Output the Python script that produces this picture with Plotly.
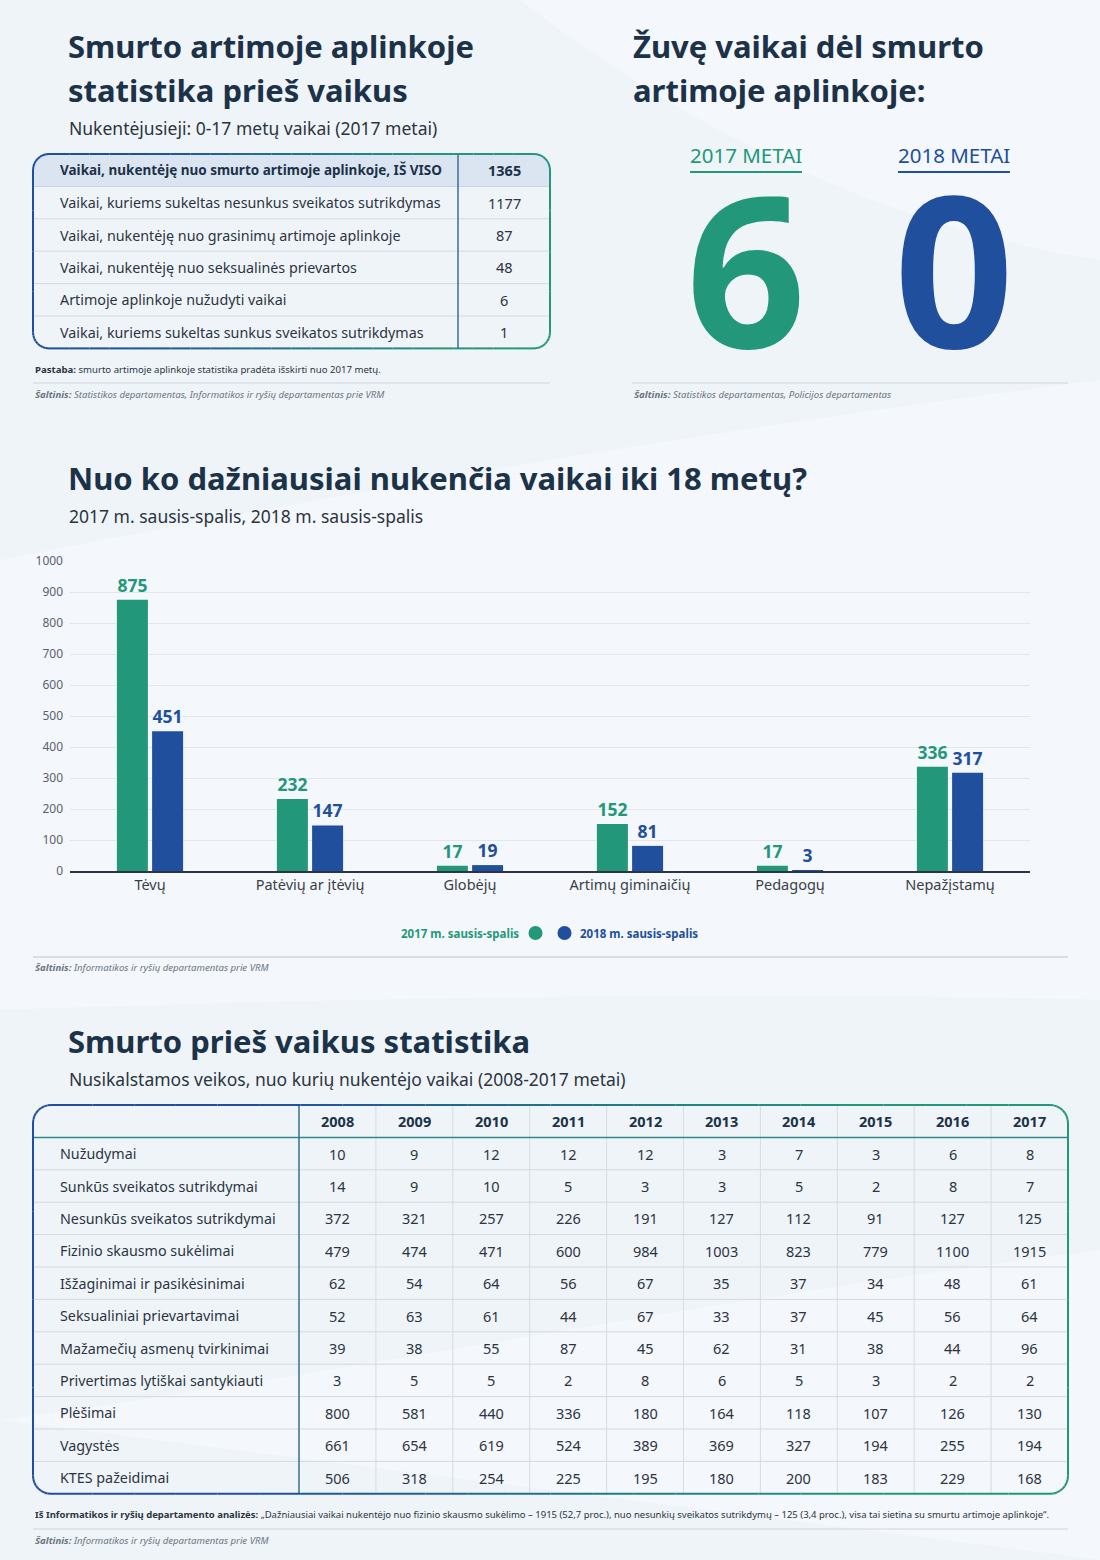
import math
import plotly.graph_objects as go

W, H = 1100, 1560
GREEN = "#23977a"
BLUE = "#1f4f9d"
NAVY = "#1c3248"
TEXT = "#2b3440"
GREY = "#6b7580"
BG = "#eff4f9"
FONT = "Noto Sans"

# ---------------- data ----------------
top_labels = [
    "Vaikai, nukentėję nuo smurto artimoje aplinkoje, IŠ VISO",
    "Vaikai, kuriems sukeltas nesunkus sveikatos sutrikdymas",
    "Vaikai, nukentėję nuo grasinimų artimoje aplinkoje",
    "Vaikai, nukentėję nuo seksualinės prievartos",
    "Artimoje aplinkoje nužudyti vaikai",
    "Vaikai, kuriems sukeltas sunkus sveikatos sutrikdymas",
]
top_values = [1365, 1177, 87, 48, 6, 1]

killed_years = ["2017 METAI", "2018 METAI"]
killed_values = [6, 0]

categories = ["Tėvų", "Patėvių ar įtėvių", "Globėjų", "Artimų giminaičių", "Pedagogų", "Nepažįstamų"]
series_2017 = [875, 232, 17, 152, 17, 336]
series_2018 = [451, 147, 19, 81, 3, 317]
series_names = ["2017 m. sausis-spalis", "2018 m. sausis-spalis"]
y_ticks = [0, 100, 200, 300, 400, 500, 600, 700, 800, 900, 1000]

years = [2008, 2009, 2010, 2011, 2012, 2013, 2014, 2015, 2016, 2017]
crime_labels = [
    "Nužudymai", "Sunkūs sveikatos sutrikdymai", "Nesunkūs sveikatos sutrikdymai",
    "Fizinio skausmo sukėlimai", "Išžaginimai ir pasikėsinimai", "Seksualiniai prievartavimai",
    "Mažamečių asmenų tvirkinimai", "Privertimas lytiškai santykiauti", "Plėšimai",
    "Vagystės", "KTES pažeidimai",
]
nuzudymai = [10, 9, 12, 12, 12, 3, 7, 3, 6, 8]
sunkus = [14, 9, 10, 5, 3, 3, 5, 2, 8, 7]
nesunkus = [372, 321, 257, 226, 191, 127, 112, 91, 127, 125]
fizinio = [479, 474, 471, 600, 984, 1003, 823, 779, 1100, 1915]
isza = [62, 54, 64, 56, 67, 35, 37, 34, 48, 61]
seksual = [52, 63, 61, 44, 67, 33, 37, 45, 56, 64]
tvirk = [39, 38, 55, 87, 45, 62, 31, 38, 44, 96]
privert = [3, 5, 5, 2, 8, 6, 5, 3, 2, 2]
plesimai = [800, 581, 440, 336, 180, 164, 118, 107, 126, 130]
vagystes = [661, 654, 619, 524, 389, 369, 327, 194, 255, 194]
ktes = [506, 318, 254, 225, 195, 180, 200, 183, 229, 168]
crime_rows = [nuzudymai, sunkus, nesunkus, fizinio, isza, seksual, tvirk, privert, plesimai, vagystes, ktes]

# ---------------- helpers ----------------
annotations = []
shapes = []


def txt(x, y, s, size, color=TEXT, anchor="left", family=FONT, height=None):
    a = dict(
        x=x, y=y, xref="x2", yref="y2", text=s, showarrow=False,
        xanchor=anchor, yanchor="middle",
        font=dict(family=family, size=size, color=color),
    )
    if height is not None:
        a["height"] = height
    annotations.append(a)


def hline(x0, x1, y, color, width=1):
    shapes.append(dict(type="line", xref="x2", yref="y2", x0=x0, x1=x1, y0=y, y1=y,
                       line=dict(color=color, width=width)))


def vline(x, y0, y1, color, width=1):
    shapes.append(dict(type="line", xref="x2", yref="y2", x0=x, x1=x, y0=y0, y1=y1,
                       line=dict(color=color, width=width)))


def hexrgb(h):
    h = h.lstrip("#")
    return [int(h[i:i + 2], 16) for i in (0, 2, 4)]


def mix(c0, c1, t):
    a, b = hexrgb(c0), hexrgb(c1)
    return "rgb(%d,%d,%d)" % tuple(round(a[i] + (b[i] - a[i]) * t) for i in range(3))


def gradient_rrect(x0, y0, x1, y1, r, c_left, c_right, width=2):
    pts = []
    n_e, n_a = 24, 8
    def edge(ax, ay, bx, by, n):
        for i in range(n):
            t = i / n
            pts.append((ax + (bx - ax) * t, ay + (by - ay) * t))
    def arc(cx, cy, a0, a1, n):
        for i in range(n):
            a = a0 + (a1 - a0) * i / n
            pts.append((cx + r * math.cos(a), cy + r * math.sin(a)))
    edge(x0 + r, y0, x1 - r, y0, n_e)
    arc(x1 - r, y0 + r, -math.pi / 2, 0, n_a)
    edge(x1, y0 + r, x1, y1 - r, 4)
    arc(x1 - r, y1 - r, 0, math.pi / 2, n_a)
    edge(x1 - r, y1, x0 + r, y1, n_e)
    arc(x0 + r, y1 - r, math.pi / 2, math.pi, n_a)
    edge(x0, y1 - r, x0, y0 + r, 4)
    arc(x0 + r, y0 + r, math.pi, 1.5 * math.pi, n_a)
    pts.append(pts[0])
    for (ax, ay), (bx, by) in zip(pts[:-1], pts[1:]):
        t = ((ax + bx) / 2 - x0) / (x1 - x0)
        t = min(1, max(0, (t - 0.2) / 0.6))
        shapes.append(dict(type="line", xref="x2", yref="y2", x0=ax, x1=bx, y0=ay, y1=by,
                           line=dict(color=mix(c_left, c_right, t), width=width)))


def paper_path(cmds):
    # cmds: list of (letter, [(x, y), ...]) in page pixels -> paper-relative path
    out = []
    for c, pts in cmds:
        out.append(c + " " + " ".join(f"{x / W:.4f},{1 - y / H:.4f}" for x, y in pts))
    return " ".join(out) + " Z"


# faint background swooshes (decorative, beneath everything)
swooshes = [
    [("M", [(520, 0)]), ("C", [(700, 140), (900, 230), (1100, 260)]), ("L", [(1100, 0)])],
    [("M", [(0, 560)]), ("C", [(300, 500), (700, 430), (1100, 380)]), ("L", [(1100, 1000)]),
     ("C", [(700, 990), (300, 1000), (0, 1010)])],
    [("M", [(0, 1420)]), ("C", [(300, 1380), (700, 1300), (1100, 1250)]), ("L", [(1100, 1560), (0, 1560)])],
]
for sw in swooshes:
    shapes.append(dict(type="path", xref="paper", yref="paper", layer="below", path=paper_path(sw),
                       fillcolor="#ffffff", opacity=0.3, line=dict(width=0)))

TITLE_SIZE = 31
SUB_SIZE = 17.5
NOTE_SIZE = 9.6
LABEL_SIZE = 14.3
NUM_SIZE = 14.5

# ---------------- section 1: top-left table ----------------
txt(66, 46, "<b>Smurto artimoje aplinkoje</b>", TITLE_SIZE, NAVY)
txt(66, 90, "<b>statistika prieš vaikus</b>", TITLE_SIZE, NAVY)
txt(67, 128, "Nukentėjusieji: 0-17 metų vaikai (2017 metai)", SUB_SIZE, TEXT)

tx0, tx1, ty0, row_h = 33, 550, 154, 32.4
tsep = 458
ty1 = ty0 + row_h * len(top_labels)
r = 16
shapes.append(dict(type="path", xref="x2", yref="y2", layer="below",
                   path=f"M {tx0},{ty0 + r} Q {tx0},{ty0} {tx0 + r},{ty0} L {tx1 - r},{ty0} "
                        f"Q {tx1},{ty0} {tx1},{ty0 + r} L {tx1},{ty0 + row_h} L {tx0},{ty0 + row_h} Z",
                   fillcolor="#dbe5f2", line=dict(width=0)))
for i, (lab, val) in enumerate(zip(top_labels, top_values)):
    yc = ty0 + row_h * (i + 0.5)
    if i == 0:
        txt(58, yc, f"<b>{lab}</b>", 13.5, NAVY)
        txt((tsep + tx1) / 2, yc, f"<b>{val}</b>", NUM_SIZE, NAVY, "center")
    else:
        txt(58, yc, lab, LABEL_SIZE, TEXT)
        txt((tsep + tx1) / 2, yc, str(val), NUM_SIZE, TEXT, "center")
    if i > 0:
        hline(tx0, tx1, ty0 + row_h * i, "#c9d3de" if i == 1 else "#d5dbe2", 1)
vline(tsep, ty0, ty1, "#3c6f8f", 1.5)
gradient_rrect(tx0, ty0, tx1, ty1, r, BLUE, GREEN, 2)

txt(33, 369, "<b>Pastaba:</b> smurto artimoje aplinkoje statistika pradėta išskirti nuo 2017 metų.", NOTE_SIZE, TEXT)
hline(33, 550, 383, "#cfd5dc", 1)
txt(33, 394, "<i><b>Šaltinis:</b> Statistikos departamentas, Informatikos ir ryšių departamentas prie VRM</i>",
    NOTE_SIZE, GREY)

# ---------------- section 2: big numbers ----------------
txt(631, 46, "<b>Žuvę vaikai dėl smurto</b>", TITLE_SIZE, NAVY)
txt(631, 90, "<b>artimoje aplinkoje:</b>", TITLE_SIZE, NAVY)
num_centers = [746, 954]
num_colors = [GREEN, BLUE]
for cx, lab, val, col in zip(num_centers, killed_years, killed_values, num_colors):
    txt(cx, 155, lab, 20.5, col, "center")
    hline(cx - 56, cx + 56, 172, col, 2)
    txt(cx, 267, f"<b>{val}</b>", 210, col, "center", height=180)
hline(632, 1068, 383, "#cfd5dc", 1)
txt(632, 394, "<i><b>Šaltinis:</b> Statistikos departamentas, Policijos departamentas</i>", NOTE_SIZE, GREY)

# ---------------- section 3: bar chart ----------------
txt(66, 478, "<b>Nuo ko dažniausiai nukenčia vaikai iki 18 metų?</b>", TITLE_SIZE, NAVY)
txt(67, 516, "2017 m. sausis-spalis, 2018 m. sausis-spalis", SUB_SIZE, TEXT)

fig = go.Figure()
for name, vals, col in zip(series_names, [series_2017, series_2018], num_colors):
    fig.add_trace(go.Bar(
        x=categories, y=vals, name=name, marker=dict(color=col, line=dict(width=0)),
        text=vals, texttemplate="<b>%{text}</b>", textposition="outside",
        textfont=dict(family=FONT, size=17.5, color=col), constraintext="none",
        cliponaxis=False, showlegend=False, xaxis="x", yaxis="y",
    ))

# legend (custom: label left of dot for first series)
lg_y = 933
txt(521, lg_y, f"<b>{series_names[0]}</b>", 11.5, GREEN, "right")
txt(578, lg_y, f"<b>{series_names[1]}</b>", 11.5, BLUE, "left")
for cx, col in zip([535.5, 564.5], num_colors):
    shapes.append(dict(type="circle", xref="x2", yref="y2", x0=cx - 7, x1=cx + 7, y0=lg_y - 7, y1=lg_y + 7,
                       fillcolor=col, line=dict(width=0)))
hline(33, 1068, 957, "#cfd5dc", 1.5)
txt(33, 967, "<i><b>Šaltinis:</b> Informatikos ir ryšių departamentas prie VRM</i>", NOTE_SIZE, GREY)

# ---------------- section 4: bottom table ----------------
txt(66, 1041, "<b>Smurto prieš vaikus statistika</b>", TITLE_SIZE, NAVY)
txt(67, 1079, "Nusikalstamos veikos, nuo kurių nukentėjo vaikai (2008-2017 metai)", SUB_SIZE, TEXT)

bx0, bx1, by0 = 33, 1068, 1105
bsep = 299
col_w = (bx1 - bsep) / len(years)
b_row_h = 32.4
by1 = by0 + b_row_h * (len(crime_labels) + 1)
for j, yr in enumerate(years):
    cx = bsep + col_w * (j + 0.5)
    txt(cx, by0 + b_row_h / 2, f"<b>{yr}</b>", NUM_SIZE, NAVY, "center")
    if j > 0:
        vline(bsep + col_w * j, by0, by1, "#d6dce3", 1)
for i, (lab, row) in enumerate(zip(crime_labels, crime_rows)):
    yc = by0 + b_row_h * (i + 1.5)
    txt(58, yc, lab, LABEL_SIZE, TEXT)
    for j, v in enumerate(row):
        txt(bsep + col_w * (j + 0.5), yc, str(v), NUM_SIZE, TEXT, "center")
    if i > 0:
        hline(bx0, bx1, by0 + b_row_h * (i + 1), "#d3d9e0", 1)
hline(bx0, bx1, by0 + b_row_h, "#2f8a86", 1.5)
vline(bsep, by0, by1, "#33708f", 1.5)
gradient_rrect(bx0, by0, bx1, by1, 18, BLUE, GREEN, 2)

txt(33, 1514, "<b>Iš Informatikos ir ryšių departamento analizės:</b> „Dažniausiai vaikai nukentėjo nuo fizinio skausmo "
              "sukėlimo – 1915 (52,7 proc.), nuo nesunkių sveikatos sutrikdymų – 125 (3,4 proc.), visa tai "
              "sietina su smurtu artimoje aplinkoje“.", 9.5, TEXT)
hline(33, 1068, 1529, "#cfd5dc", 1)
txt(33, 1540, "<i><b>Šaltinis:</b> Informatikos ir ryšių departamentas prie VRM</i>", NOTE_SIZE, GREY)

# ---------------- layout ----------------
plot_x0, plot_x1 = 70, 1030
plot_top, plot_bot = 561, 871
fig.update_layout(
    width=W, height=H, margin=dict(l=0, r=0, t=0, b=0, pad=0, autoexpand=False),
    paper_bgcolor=BG, plot_bgcolor="rgba(0,0,0,0)",
    font=dict(family=FONT, color=TEXT),
    barmode="group", bargap=0.56, bargroupgap=0.12,
    xaxis=dict(domain=[plot_x0 / W, plot_x1 / W], anchor="y", automargin=False,
               showline=True, linecolor="#2b3440", linewidth=1.5, ticks="",
               tickfont=dict(family=FONT, size=14.5, color="#3a3f47"), fixedrange=True),
    yaxis=dict(domain=[(H - plot_bot) / H, (H - plot_top) / H], anchor="x", range=[0, 1000],
               automargin=False, tickvals=y_ticks, showgrid=True, gridcolor="#e2e7ed", gridwidth=1,
               zeroline=False, tickfont=dict(family=FONT, size=12, color="#5a626c"),
               ticklabelstandoff=6, fixedrange=True),
    xaxis2=dict(domain=[0, 1], range=[0, W], anchor="y2", visible=False, fixedrange=True, automargin=False),
    yaxis2=dict(domain=[0, 1], range=[H, 0], anchor="x2", visible=False, fixedrange=True, automargin=False),
    annotations=annotations, shapes=shapes,
)

page_fix = ("document.documentElement.style.margin='0';document.body.style.margin='0';"
            "document.body.style.overflow='hidden';"
            "var d=document.getElementById('{plot_id}');d.style.position='absolute';"
            "d.style.left='0px';d.style.top='0px';")
fig.write_html("out.html", config={"displayModeBar": False}, post_script=page_fix)
